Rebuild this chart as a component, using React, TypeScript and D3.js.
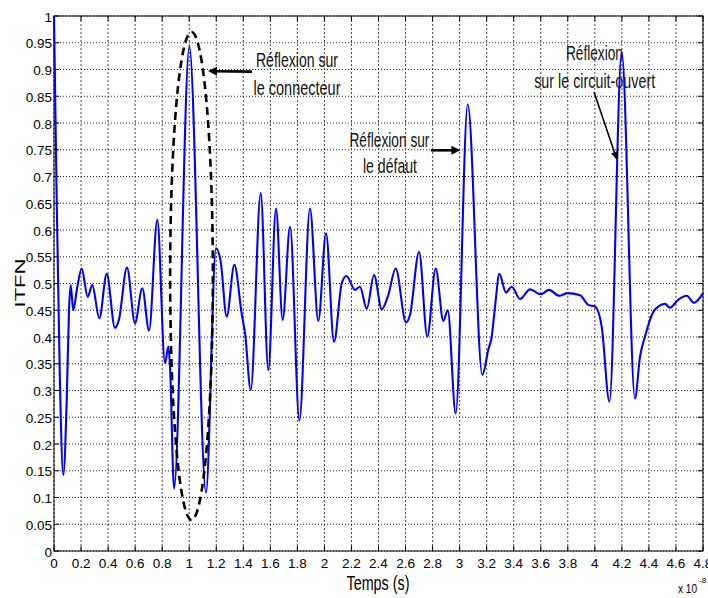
import React from 'react';
import * as d3 from 'd3';

// time in units of 1e-8 s
const timeValues = [
  0.000, 0.020, 0.044, 0.069, 0.094, 0.111, 0.123, 0.143, 0.170, 0.205,
  0.249, 0.283, 0.335, 0.390, 0.451, 0.480, 0.540, 0.599, 0.653, 0.703,
  0.764, 0.821, 0.846, 0.858, 0.888, 1.001, 1.124, 1.198, 1.233, 1.277,
  1.334, 1.388, 1.413, 1.455, 1.529, 1.585, 1.642, 1.691, 1.746, 1.815,
  1.893, 1.955, 2.012, 2.071, 2.128, 2.163, 2.226, 2.263, 2.313, 2.367,
  2.424, 2.473, 2.527, 2.604, 2.633, 2.700, 2.761, 2.823, 2.880, 2.912,
  2.971, 3.060, 3.168, 3.212, 3.237, 3.262, 3.294, 3.343, 3.385, 3.447,
  3.521, 3.600, 3.661, 3.738, 3.797, 3.891, 3.952, 4.001, 4.051, 4.108,
  4.199, 4.297, 4.334, 4.371, 4.433, 4.470, 4.519, 4.556, 4.618, 4.680,
  4.734, 4.800,
];

const itfnValues = [
  1.000, 0.656, 0.314, 0.142, 0.282, 0.450, 0.497, 0.450, 0.490, 0.528,
  0.475, 0.497, 0.435, 0.518, 0.417, 0.432, 0.530, 0.426, 0.491, 0.412,
  0.619, 0.351, 0.382, 0.345, 0.117, 0.943, 0.109, 0.566, 0.541, 0.438,
  0.535, 0.444, 0.407, 0.301, 0.669, 0.338, 0.640, 0.432, 0.606, 0.244,
  0.640, 0.430, 0.594, 0.391, 0.500, 0.514, 0.488, 0.494, 0.453, 0.516,
  0.452, 0.479, 0.528, 0.427, 0.441, 0.559, 0.401, 0.528, 0.430, 0.450,
  0.257, 0.835, 0.329, 0.376, 0.400, 0.457, 0.518, 0.483, 0.494, 0.471,
  0.489, 0.480, 0.488, 0.477, 0.482, 0.478, 0.460, 0.457, 0.419, 0.279,
  0.932, 0.285, 0.363, 0.401, 0.447, 0.457, 0.462, 0.455, 0.470, 0.477,
  0.464, 0.482,
];

const xTickValues = [
  0, 0.2, 0.4, 0.6, 0.8, 1, 1.2, 1.4, 1.6, 1.8, 2, 2.2, 2.4, 2.6, 2.8, 3,
  3.2, 3.4, 3.6, 3.8, 4, 4.2, 4.4, 4.6, 4.8,
];
const yTickValues = [
  0, 0.05, 0.1, 0.15, 0.2, 0.25, 0.3, 0.35, 0.4, 0.45, 0.5, 0.55, 0.6, 0.65,
  0.7, 0.75, 0.8, 0.85, 0.9, 0.95, 1,
];

const xLabel = 'Temps (s)';
const yLabel = 'ITFN';

const FONT = "'Liberation Sans Narrow', 'Liberation Sans', Arial, sans-serif";

export default function App() {
  const W = 708;
  const H = 598;
  const L = 54, R = 703, T = 16, B = 551;

  const x = d3.scaleLinear().domain([0, 4.8]).range([L, R]);
  const y = d3.scaleLinear().domain([0, 1]).range([B, T]);

  const line = d3
    .line<number>()
    .x((_, i) => x(timeValues[i]))
    .y((d) => y(d))
    .curve(d3.curveMonotoneX);

  const fmt = (v: number) => String(+v.toFixed(2));

  // annotation helpers (data coordinates)
  const ell = { cx: x(1.017), cy: y(0.514), rx: x(1.175) - x(1.017), ry: y(0.058) - y(0.514) };

  const arrows = [
    { x1: x(1.464), y1: y(0.896), x2: x(1.139), y2: y(0.897), w: 2.6 },
    { x1: x(2.788), y1: y(0.749), x2: x(3.006), y2: y(0.749), w: 2.6 },
    { x1: x(3.994), y1: y(0.858), x2: x(4.164), y2: y(0.731), w: 1.6 },
  ];

  const notes = [
    { t: 'Réflexion sur', cx: x(1.797), by: y(0.905), len: 82 },
    { t: 'le connecteur', cx: x(1.797), by: y(0.852), len: 87 },
    { t: 'Réflexion sur', cx: x(2.481), by: y(0.756), len: 80 },
    { t: 'le défaut', cx: x(2.485), by: y(0.706), len: 54 },
    { t: 'Réflexion', cx: x(3.997), by: y(0.918), len: 57 },
    { t: 'sur le circuit-ouvert', cx: x(3.999), by: y(0.865), len: 121 },
  ];

  const arrowHead = (a: { x1: number; y1: number; x2: number; y2: number; w: number }) => {
    const ang = Math.atan2(a.y2 - a.y1, a.x2 - a.x1);
    const len = a.w > 2 ? 9 : 8;
    const half = a.w > 2 ? 4.5 : 3.5;
    const bx = a.x2 - len * Math.cos(ang);
    const by = a.y2 - len * Math.sin(ang);
    const px = -Math.sin(ang) * half;
    const py = Math.cos(ang) * half;
    return `M${a.x2},${a.y2}L${bx + px},${by + py}L${bx - px},${by - py}Z`;
  };

  return (
    <svg
      width={W}
      height={H}
      style={{ position: 'absolute', left: 0, top: 0, background: '#fff' }}
      fontFamily={FONT}
    >
      <rect x={0} y={0} width={W} height={H} fill="#fff" />
      {/* grid */}
      {xTickValues.map((v) => (
        <line
          key={'gx' + v}
          x1={x(v)}
          x2={x(v)}
          y1={T}
          y2={B}
          stroke="#444"
          strokeWidth={1}
          strokeDasharray="2,2"
        />
      ))}
      {yTickValues.map((v) => (
        <line
          key={'gy' + v}
          x1={L}
          x2={R}
          y1={y(v)}
          y2={y(v)}
          stroke="#222"
          strokeWidth={1}
          strokeDasharray="1,2"
        />
      ))}
      {/* ticks inside */}
      {xTickValues.map((v) => (
        <g key={'tx' + v}>
          <line x1={x(v)} x2={x(v)} y1={B} y2={B - 5} stroke="#000" />
          <line x1={x(v)} x2={x(v)} y1={T} y2={T + 5} stroke="#000" />
        </g>
      ))}
      {yTickValues.map((v) => (
        <g key={'ty' + v}>
          <line x1={L} x2={L + 5} y1={y(v)} y2={y(v)} stroke="#000" />
          <line x1={R} x2={R - 5} y1={y(v)} y2={y(v)} stroke="#000" />
        </g>
      ))}
      {/* box */}
      <rect x={L} y={T} width={R - L} height={B - T} fill="none" stroke="#000" strokeWidth={1} />

      {/* annotation text */}
      {notes.map((n, i) => (
        <text
          key={'n' + i}
          x={n.cx}
          y={n.by}
          textAnchor="middle"
          fontSize={21}
          fill="#111"
          textLength={n.len}
          lengthAdjust="spacingAndGlyphs"
          fontFamily="'Liberation Sans', Arial, sans-serif"
        >
          {n.t}
        </text>
      ))}

      {/* curve */}
      <path d={line(itfnValues) || ''} fill="none" stroke="#0000ff" strokeWidth={2.1} strokeLinejoin="round" />

      {/* ellipse */}
      <ellipse
        cx={ell.cx}
        cy={ell.cy}
        rx={ell.rx}
        ry={ell.ry}
        fill="none"
        stroke="#000"
        strokeWidth={2.6}
        strokeDasharray="8,5"
      />

      {/* arrows */}
      {arrows.map((a, i) => {
        const ang = Math.atan2(a.y2 - a.y1, a.x2 - a.x1);
        const ex = a.x2 - 7 * Math.cos(ang);
        const ey = a.y2 - 7 * Math.sin(ang);
        return (
          <g key={'ar' + i}>
            <line x1={a.x1} y1={a.y1} x2={ex} y2={ey} stroke="#000" strokeWidth={a.w} />
            <path d={arrowHead(a)} fill="#000" />
          </g>
        );
      })}

      {/* tick labels */}
      {xTickValues.map((v) => (
        <text key={'lx' + v} x={x(v)} y={568} textAnchor="middle" fontSize={13.5} fill="#000">
          {fmt(v)}
        </text>
      ))}
      {yTickValues.map((v) => (
        <text key={'ly' + v} x={L - 2} y={y(v) + 5.5} textAnchor="end" fontSize={13.5} fill="#000">
          {fmt(v)}
        </text>
      ))}

      {/* axis labels */}
      <text
        x={378}
        y={590}
        textAnchor="middle"
        fontSize={20}
        textLength={63}
        lengthAdjust="spacingAndGlyphs"
        fontFamily="'Liberation Sans', Arial, sans-serif"
        fill="#000"
      >
        {xLabel}
      </text>
      <text
        transform={`translate(25,283) rotate(-90)`}
        textAnchor="middle"
        fontSize={14}
        textLength={49}
        lengthAdjust="spacingAndGlyphs"
        fontFamily="'Liberation Sans', Arial, sans-serif"
        fill="#000"
      >
        {yLabel}
      </text>
      <text x={678} y={593} fontSize={12} textLength={19} lengthAdjust="spacingAndGlyphs" fill="#000">
        x 10
      </text>
      <text x={699} y={583} fontSize={8} fill="#000">
        -8
      </text>
    </svg>
  );
}
